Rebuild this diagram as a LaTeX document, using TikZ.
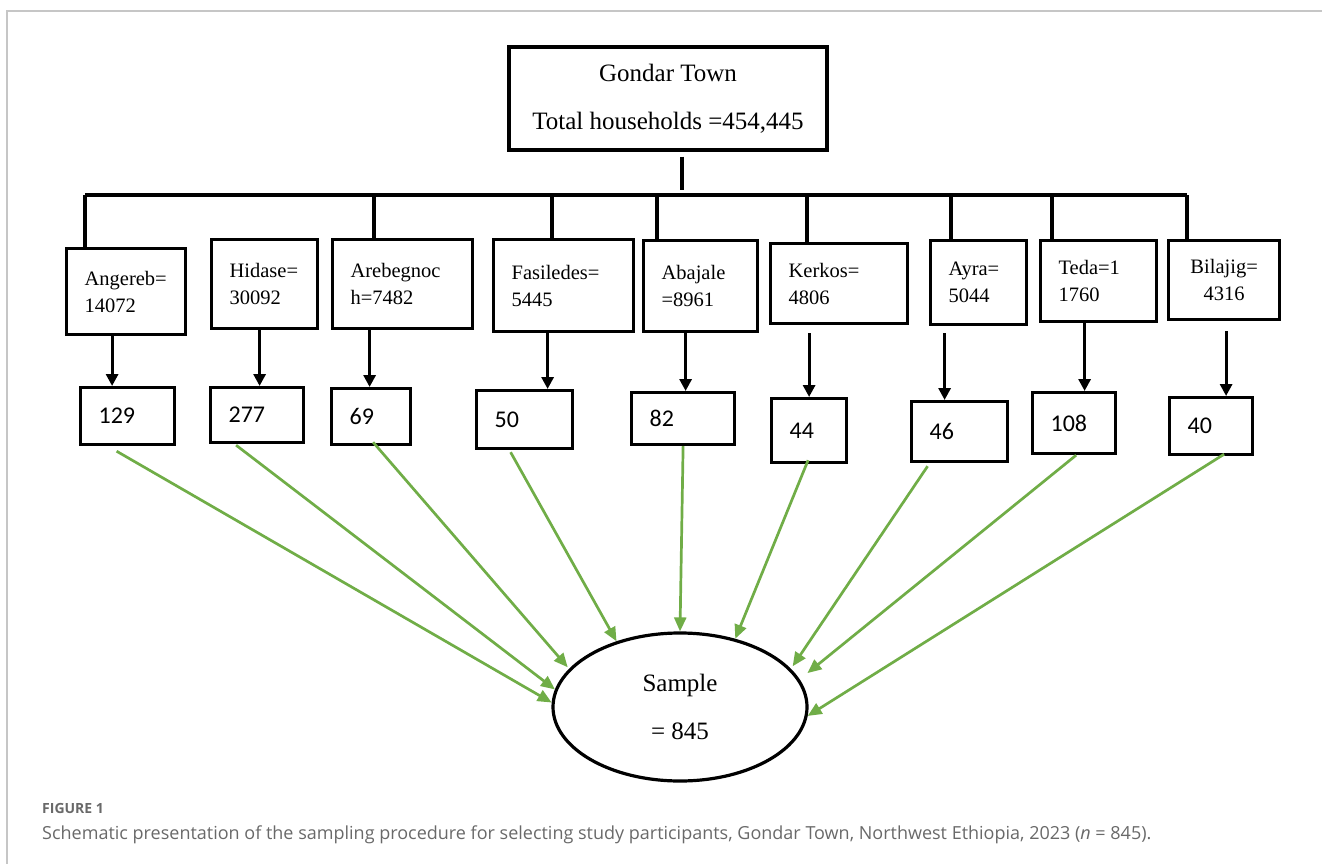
\documentclass[tikz,border=0pt]{standalone}
\usepackage{fontspec}
\setmainfont{Liberation Serif}
\newfontfamily\szamfont{Carlito}
\newfontfamily\capfont{Open Sans}
\usepackage{tikz}
\usetikzlibrary{arrows.meta,positioning,calc,shapes.geometric}
\definecolor{zold}{RGB}{112,173,71}
\definecolor{felirat}{RGB}{105,105,105}
\newcommand{\kerfont}{\fontsize{20.5}{27}\selectfont\hyphenpenalty=10000\relax}
\tikzset{
  varos/.style={draw,line width=3.2pt,align=center,inner sep=0pt,minimum width=318pt,minimum height=103pt,
                font=\fontsize{25}{48}\selectfont},
  kerulet/.style={draw,line width=3.2pt,anchor=north west,align=left,inner xsep=18pt,inner ysep=0pt,
                  font=\kerfont},
  szam/.style={draw,line width=3.2pt,anchor=north west,align=left,inner xsep=18pt,inner ysep=0pt,
               font=\szamfont\fontsize{24}{28}\selectfont},
  minta/.style={ellipse,draw,line width=3.2pt,inner sep=0pt,minimum width=254pt,minimum height=148pt,
                align=center,font=\fontsize{25}{48}\selectfont},
  vonal/.style={line width=3.2pt},
  nyil/.style={line width=3pt,-{Triangle[length=12pt,width=12pt]}},
  znyil/.style={zold,line width=2.7pt,-{Triangle[length=14pt,width=12pt]}},
  felirat/.style={anchor=base west,inner sep=0pt,text=felirat},
}
\begin{document}
\begin{tikzpicture}[x=1pt,y=-1pt]
  \useasboundingbox (0,0) rectangle (1322,864);
  \draw[gray!45,line width=1.5pt] (7,864) -- (7,11) -- (1322,11);

  \node[varos] (town) at (668,98.5) {Gondar Town\\Total households =454,445};

  % kebeles
  \node[kerulet,text width=83pt,minimum height=86pt] (k1) at (65,247) {Angereb=\\14072};
  \node[kerulet,text width=70pt,minimum height=89pt] (k2) at (210,238) {Hidase=\\30092};
  \node[kerulet,text width=104pt,minimum height=89pt] (k3) at (331,238) {Arebegnoc\\h=7482};
  \node[kerulet,text width=104pt,minimum height=92pt] (k4) at (492,238) {Fasiledes=\\5445};
  \node[kerulet,text width=78pt,minimum height=91pt] (k5) at (642,239) {Abajale\\=8961};
  \node[kerulet,text width=101pt,minimum height=80pt] (k6) at (769,242) {Kerkos=\\4806};
  \node[kerulet,text width=60pt,minimum height=84pt] (k7) at (929,239) {Ayra=\\5044};
  \node[kerulet,text width=80pt,minimum height=81pt] (k8) at (1039,239) {Teda=1\\1760};
  \node[kerulet,text width=75pt,minimum height=79pt,align=center] (k9) at (1167,239) {Bilajig=\\4316};

  % sample sizes
  \node[szam,text width=58pt,minimum height=57pt] (n1) at (79,386) {129};
  \node[szam,text width=57pt,minimum height=55pt] (n2) at (209,386) {277};
  \node[szam,text width=43pt,minimum height=56pt] (n3) at (330,387) {69};
  \node[szam,text width=60pt,minimum height=58pt] (n4) at (475,389) {50};
  \node[szam,text width=67pt,minimum height=52pt] (n5) at (630,391) {82};
  \node[szam,text width=39pt,minimum height=64pt] (n6) at (770,397) {44};
  \node[szam,text width=60pt,minimum height=60pt] (n7) at (910,400) {46};
  \node[szam,text width=47pt,minimum height=61pt] (n8) at (1031,391) {108};
  \node[szam,text width=47pt,minimum height=57pt] (n9) at (1168,396) {40};

  \node[minta] (sample) at (680,707) {Sample\\= 845};

  \coordinate (bus) at (0,195);
  \draw[vonal] ([xshift=14pt,yshift=-5pt]town.south) -- ++(0,33);
  \draw[vonal] (85,0 |- bus) -- (1187,0 |- bus);
  \foreach \x/\k in {85/1,374/3,552/4,657/5,807/6,951/7,1052/8,1187/9}
    \draw[vonal] (\x,0 |- bus) -- (\x,0 |- k\k.north);
  \foreach \k/\dx/\gap in {1/-14/0,2/-5/0,3/-33/0,4/-16/0,5/-15/0,6/-30/8,7/-34/7,8/-14/0,9/2/10}
    \draw[nyil] ([xshift=\dx pt,yshift=-\gap pt]k\k.south) -- ([xshift=\dx pt]k\k.south |- n\k.north);
  \foreach \k/\dx/\dy/\a/\s in {1/-11/-5/178/0,2/-21/-1/172/0,3/2/4/161/2,4/-14/-2/134/0,5/0/0/90/0,
                                6/-1/4/51/0,7/-32/-3/19/3,8/2/0/13/10,9/13/2/356/0}
    \draw[znyil,shorten >=\s pt] ([xshift=\dx pt,yshift=\dy pt]n\k.south) -- (sample.\a);

  \node[felirat,font=\capfont\bfseries\fontsize{14}{16}\selectfont] (fig) at (42,813) {FIGURE 1};
  \node[felirat,font=\capfont\fontsize{18}{21}\selectfont] (cap) at (42,839)
    {Schematic presentation of the sampling procedure for selecting study participants, Gondar Town, Northwest Ethiopia, 2023 (\textit{n} = 845).};
\end{tikzpicture}
\end{document}
